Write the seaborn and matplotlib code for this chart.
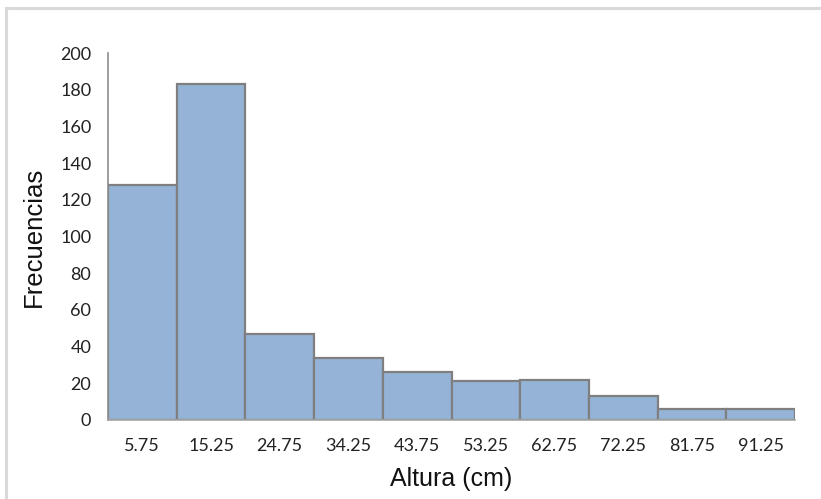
import matplotlib
matplotlib.use("Agg")
import matplotlib.pyplot as plt
import matplotlib.patches as mpatches
import seaborn as sns
import pandas as pd

# Class marks (cm) and observed frequencies
marcas = ["5.75", "15.25", "24.75", "34.25", "43.75", "53.25", "62.75", "72.25", "81.75", "91.25"]
frecuencias = [128, 183, 47, 34, 26, 21, 22, 13, 6, 6]
y_ticks = [0, 20, 40, 60, 80, 100, 120, 140, 160, 180, 200]

sns.set_theme(style="white")
plt.rcParams["font.family"] = ["Lato", "DejaVu Sans"]

df = pd.DataFrame({"Altura": marcas, "Frecuencia": frecuencias})

fig = plt.figure(figsize=(8.21, 4.99), dpi=100)
ax = fig.add_axes([108 / 821, 1 - 420 / 499, (795 - 108) / 821, (420 - 53) / 499])

sns.barplot(data=df, x="Altura", y="Frecuencia", ax=ax, color="#95B3D7",
            saturation=1, width=1.0, edgecolor="#7F7F7F", linewidth=1.6)

ax.set_xlim(-0.5, len(marcas) - 0.5)
ax.set_ylim(0, 200)
ax.set_yticks(y_ticks)
ax.tick_params(axis="both", length=0, labelsize=13, colors="#222222")
ax.tick_params(axis="y", pad=12)
ax.tick_params(axis="x", pad=13)

for side in ["top", "right"]:
    ax.spines[side].set_visible(False)
ax.spines["left"].set_color("#8C8C8C")
ax.spines["left"].set_linewidth(1.2)
ax.spines["bottom"].set_color("#A6A6A6")
ax.spines["bottom"].set_linewidth(1.2)

ax.set_xlabel("Altura (cm)", fontsize=18, family=["Liberation Sans", "DejaVu Sans"],
              color="#111111", labelpad=9)
ax.set_ylabel("Frecuencias", fontsize=18.5, family=["Liberation Sans", "DejaVu Sans"],
              color="#111111", labelpad=10)

# Light chart-area frame
frame = mpatches.Rectangle((6 / 821, -0.05), 1.2, 1 - 8 / 499 + 0.05,
                           transform=fig.transFigure, fill=False,
                           edgecolor="#D9D9D9", linewidth=2.2, zorder=-1)
fig.patches.append(frame)

fig.savefig("out.png", dpi=100)
